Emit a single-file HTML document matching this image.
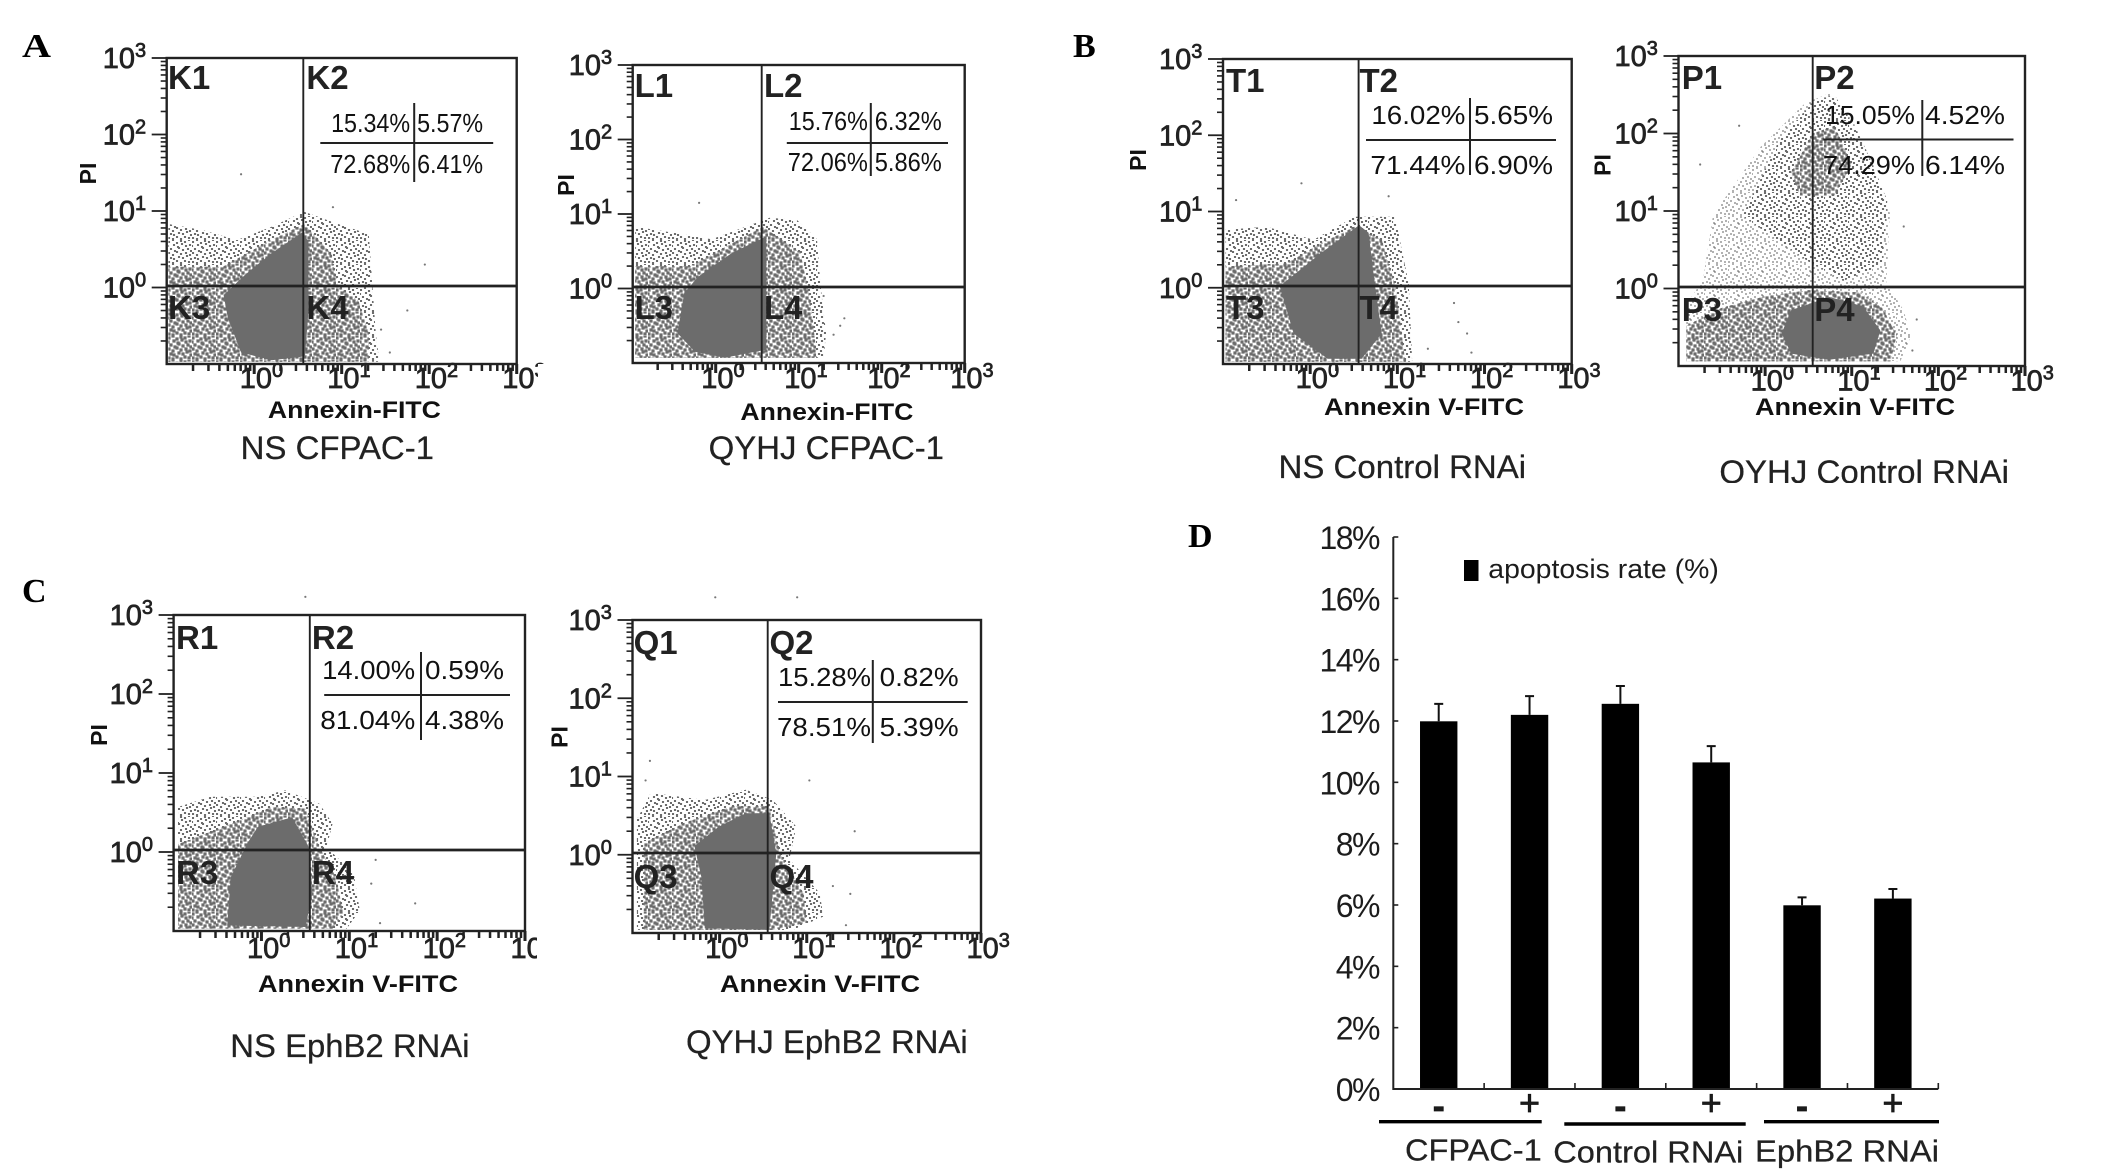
<!DOCTYPE html>
<html lang="en">
<head>
<meta charset="utf-8">
<title>Apoptosis flow cytometry and bar chart</title>
<style>
html,body{margin:0;padding:0;background:#fff;width:2126px;height:1176px;overflow:hidden}
svg{display:block}
text{font-family:"Liberation Sans",Arial,sans-serif;fill:#1c1c1c}
.letter{font-family:"Liberation Serif","Times New Roman",serif;font-weight:700;font-size:34px;fill:#000}
.quad{font-weight:700;font-size:33px;fill:#222}
.pct{font-size:26px;fill:#111}
.axl{font-weight:700;font-size:24px;fill:#111}
.pi{font-weight:700;font-size:23px;fill:#111}
.cap{font-size:32px;fill:#222;stroke:#222;stroke-width:.25}
.frame{fill:none;stroke:#222;stroke-width:2.4}
.v{stroke:#222;stroke-width:1.9}
.h{stroke:#222;stroke-width:2.8}
.tbl{stroke:#222;stroke-width:2}
.tick{font-size:29px;fill:#222;stroke:#222;stroke-width:.7}
.barlab{font-size:31px;fill:#222;stroke:#222;stroke-width:.25}
</style>
</head>
<body>
<svg id="figure" xmlns="http://www.w3.org/2000/svg" width="2126" height="1176" viewBox="0 0 2126 1176">
<defs>
<path id="speck" fill="none" stroke-linecap="square" d="M1 2h.01M5 0h.01M9 3h.01M13 1h.01M17 2h.01M21 0h.01M0 6h.01M6 5h.01M10 7h.01M14 4h.01M18 6h.01M22 5h.01M3 9h.01M7 11h.01M11 8h.01M15 10h.01M20 9h.01M23 11h.01M1 13h.01M5 15h.01M9 12h.01M13 14h.01M18 13h.01M22 15h.01M3 18h.01M6 19h.01M11 17h.01M15 18h.01M19 16h.01M23 19h.01M1 22h.01M5 23h.01M9 21h.01M13 23h.01M17 21h.01M21 22h.01"/>
<pattern id="faint-fill" patternUnits="userSpaceOnUse" width="24" height="24"><use href="#speck" stroke="#777" stroke-width="1.5"/></pattern>
<pattern id="sparse-fill" patternUnits="userSpaceOnUse" width="24" height="24"><use href="#speck" stroke="#6c6c6c" stroke-width="2.1"/></pattern>
<pattern id="mid-fill" patternUnits="userSpaceOnUse" width="24" height="24"><use href="#speck" stroke="#6c6c6c" stroke-width="3.2"/></pattern>
</defs>
<rect width="2126" height="1176" fill="#fff"/>

<text class="letter" x="22" y="57" textLength="29" lengthAdjust="spacingAndGlyphs">A</text>
<text class="letter" x="1073" y="57">B</text>
<text class="letter" x="22" y="602">C</text>
<text class="letter" x="1188" y="547">D</text>

<!-- K -->
<g>
<g id="marks-k"></g>
<rect class="frame" x="166.7" y="58" width="350" height="306"/>
<line class="v" x1="303.3" y1="58" x2="303.3" y2="364"/>
<line class="h" x1="166.7" y1="286" x2="516.7" y2="286"/>
<text class="quad" x="168" y="89">K1</text><text class="quad" x="306.4" y="89">K2</text><text class="quad" x="168" y="319">K3</text><text class="quad" x="306.4" y="319">K4</text>
<line class="tbl" x1="320.3" y1="143" x2="493.2" y2="143"/><line class="tbl" x1="414.2" y1="103" x2="414.2" y2="182"/>
<text class="pct" x="331.1" y="132" textLength="79" lengthAdjust="spacingAndGlyphs">15.34%</text><text class="pct" x="417.1" y="132" textLength="66" lengthAdjust="spacingAndGlyphs">5.57%</text><text class="pct" x="330.2" y="173" textLength="80" lengthAdjust="spacingAndGlyphs">72.68%</text><text class="pct" x="417.1" y="173" textLength="66" lengthAdjust="spacingAndGlyphs">6.41%</text>
<text class="axl" x="267.9" y="418" textLength="173" lengthAdjust="spacingAndGlyphs">Annexin-FITC</text>
<text class="pi" transform="translate(96,173.5) rotate(-90)" text-anchor="middle">PI</text>
<text class="cap" x="240.7" y="459" textLength="193.3" lengthAdjust="spacingAndGlyphs">NS CFPAC-1</text>
</g>

<!-- L -->
<g>
<g id="marks-l"></g>
<rect class="frame" x="632.7" y="65" width="332" height="298"/>
<line class="v" x1="761.7" y1="65" x2="761.7" y2="363"/>
<line class="h" x1="632.7" y1="287" x2="964.7" y2="287"/>
<text class="quad" x="634.6" y="97">L1</text><text class="quad" x="764" y="97">L2</text><text class="quad" x="634.6" y="319">L3</text><text class="quad" x="764" y="319">L4</text>
<line class="tbl" x1="786.8" y1="143" x2="948" y2="143"/><line class="tbl" x1="870.8" y1="103" x2="870.8" y2="176"/>
<text class="pct" x="788.8" y="130" textLength="79" lengthAdjust="spacingAndGlyphs">15.76%</text><text class="pct" x="874.8" y="130" textLength="67" lengthAdjust="spacingAndGlyphs">6.32%</text><text class="pct" x="787.8" y="171" textLength="80" lengthAdjust="spacingAndGlyphs">72.06%</text><text class="pct" x="874.8" y="171" textLength="67" lengthAdjust="spacingAndGlyphs">5.86%</text>
<text class="axl" x="740.4" y="420" textLength="173" lengthAdjust="spacingAndGlyphs">Annexin-FITC</text>
<text class="pi" transform="translate(574,185) rotate(-90)" text-anchor="middle">PI</text>
<text class="cap" x="708.7" y="459" textLength="235.3" lengthAdjust="spacingAndGlyphs">QYHJ CFPAC-1</text>
</g>

<!-- T -->
<g>
<g id="marks-t"></g>
<rect class="frame" x="1223" y="59" width="348.7" height="305"/>
<line class="v" x1="1358.6" y1="59" x2="1358.6" y2="364"/>
<line class="h" x1="1223" y1="286" x2="1571.7" y2="286"/>
<text class="quad" x="1226" y="92">T1</text><text class="quad" x="1359.5" y="92">T2</text><text class="quad" x="1226" y="319">T3</text><text class="quad" x="1359.5" y="319">T4</text>
<line class="tbl" x1="1366" y1="140" x2="1556" y2="140"/><line class="tbl" x1="1470" y1="98" x2="1470" y2="175"/>
<text class="pct" x="1371.4" y="124" textLength="94" lengthAdjust="spacingAndGlyphs">16.02%</text><text class="pct" x="1474" y="124" textLength="79" lengthAdjust="spacingAndGlyphs">5.65%</text><text class="pct" x="1370.4" y="174" textLength="95" lengthAdjust="spacingAndGlyphs">71.44%</text><text class="pct" x="1474" y="174" textLength="79" lengthAdjust="spacingAndGlyphs">6.90%</text>
<text class="axl" x="1324" y="415" textLength="200" lengthAdjust="spacingAndGlyphs">Annexin V-FITC</text>
<text class="pi" transform="translate(1146,160) rotate(-90)" text-anchor="middle">PI</text>
<text class="cap" x="1278.5" y="478" textLength="247.6" lengthAdjust="spacingAndGlyphs">NS Control RNAi</text>
</g>

<!-- P -->
<g>
<g id="marks-p"></g>
<rect class="frame" x="1678.5" y="56" width="346.5" height="310"/>
<line class="v" x1="1812.7" y1="56" x2="1812.7" y2="366"/>
<line class="h" x1="1678.5" y1="287" x2="2025" y2="287"/>
<text class="quad" x="1681.8" y="89">P1</text><text class="quad" x="1814.2" y="89">P2</text><text class="quad" x="1681.8" y="321">P3</text><text class="quad" x="1814.2" y="321">P4</text>
<line class="tbl" x1="1823.3" y1="139.5" x2="2013.5" y2="139.5"/><line class="tbl" x1="1922.3" y1="100" x2="1922.3" y2="176"/>
<text class="pct" x="1825" y="124" textLength="90" lengthAdjust="spacingAndGlyphs">15.05%</text><text class="pct" x="1925" y="124" textLength="80" lengthAdjust="spacingAndGlyphs">4.52%</text><text class="pct" x="1823" y="174" textLength="92" lengthAdjust="spacingAndGlyphs">74.29%</text><text class="pct" x="1925" y="174" textLength="80" lengthAdjust="spacingAndGlyphs">6.14%</text>
<text class="axl" x="1755" y="415" textLength="200" lengthAdjust="spacingAndGlyphs">Annexin V-FITC</text>
<text class="pi" transform="translate(1610.6,165) rotate(-90)" text-anchor="middle">PI</text>
<text class="cap" x="1719.4" y="483" textLength="289.6" lengthAdjust="spacingAndGlyphs">QYHJ Control RNAi</text>
<rect x="1700" y="483" width="330" height="14" fill="#fff"/>
</g>

<!-- R -->
<g>
<g id="marks-r"></g>
<rect class="frame" x="173.6" y="615" width="351.4" height="316"/>
<line class="v" x1="309.8" y1="615" x2="309.8" y2="931"/>
<line class="h" x1="173.6" y1="850" x2="525" y2="850"/>
<text class="quad" x="176" y="649">R1</text><text class="quad" x="311.9" y="649">R2</text><text class="quad" x="176" y="884">R3</text><text class="quad" x="311.9" y="884">R4</text>
<line class="tbl" x1="324.2" y1="695" x2="510" y2="695"/><line class="tbl" x1="421" y1="652" x2="421" y2="740"/>
<text class="pct" x="322.2" y="679" textLength="93" lengthAdjust="spacingAndGlyphs">14.00%</text><text class="pct" x="425" y="679" textLength="79" lengthAdjust="spacingAndGlyphs">0.59%</text><text class="pct" x="320.3" y="729" textLength="95" lengthAdjust="spacingAndGlyphs">81.04%</text><text class="pct" x="425" y="729" textLength="79" lengthAdjust="spacingAndGlyphs">4.38%</text>
<text class="axl" x="258" y="992" textLength="200" lengthAdjust="spacingAndGlyphs">Annexin V-FITC</text>
<text class="pi" transform="translate(106.8,735) rotate(-90)" text-anchor="middle">PI</text>
<text class="cap" x="230.3" y="1057" textLength="239.2" lengthAdjust="spacingAndGlyphs">NS EphB2 RNAi</text>
</g>

<!-- Q -->
<g>
<g id="marks-q"></g>
<rect class="frame" x="632.5" y="620" width="348.5" height="313"/>
<line class="v" x1="767.7" y1="620" x2="767.7" y2="933"/>
<line class="h" x1="632.5" y1="853" x2="981" y2="853"/>
<text class="quad" x="633.6" y="654">Q1</text><text class="quad" x="769.5" y="654">Q2</text><text class="quad" x="633.6" y="888">Q3</text><text class="quad" x="769.5" y="888">Q4</text>
<line class="tbl" x1="778" y1="702" x2="967.7" y2="702"/><line class="tbl" x1="872.8" y1="660" x2="872.8" y2="743"/>
<text class="pct" x="778" y="686" textLength="93" lengthAdjust="spacingAndGlyphs">15.28%</text><text class="pct" x="879.7" y="686" textLength="79" lengthAdjust="spacingAndGlyphs">0.82%</text><text class="pct" x="777" y="736" textLength="94" lengthAdjust="spacingAndGlyphs">78.51%</text><text class="pct" x="879.7" y="736" textLength="79" lengthAdjust="spacingAndGlyphs">5.39%</text>
<text class="axl" x="720" y="992" textLength="200" lengthAdjust="spacingAndGlyphs">Annexin V-FITC</text>
<text class="pi" transform="translate(567.4,737) rotate(-90)" text-anchor="middle">PI</text>
<text class="cap" x="686" y="1053" textLength="281.7" lengthAdjust="spacingAndGlyphs">QYHJ EphB2 RNAi</text>
</g>

<!-- Bar chart D -->
<g>
<g id="bars"></g>
<rect x="1464" y="560" width="14.5" height="21" fill="#000"/>
<text x="1488.3" y="578" font-size="27" textLength="230.5" lengthAdjust="spacingAndGlyphs" fill="#222">apoptosis rate (%)</text>
<line x1="1379" y1="1121.7" x2="1541.7" y2="1121.7" stroke="#000" stroke-width="3.4"/>
<line x1="1564.3" y1="1124" x2="1745.7" y2="1124" stroke="#000" stroke-width="3.4"/>
<line x1="1764" y1="1121.7" x2="1939" y2="1121.7" stroke="#000" stroke-width="3.4"/>
<text class="barlab" x="1405" y="1160.7" textLength="136.7" lengthAdjust="spacingAndGlyphs">CFPAC-1</text>
<text class="barlab" x="1553.3" y="1162.7" textLength="190" lengthAdjust="spacingAndGlyphs">Control RNAi</text>
<text class="barlab" x="1755" y="1161.7" textLength="184" lengthAdjust="spacingAndGlyphs">EphB2 RNAi</text>
</g>

<script>
// Flow cytometry: population outlines are [log10 x, log10 y].
const xTickLabels = ["0", "1", "2", "3"];
const yTickLabels = ["0", "1", "2", "3"];
const minorMultipliers = [2, 3, 4, 5, 6, 7, 8, 9];

const kSparse = [[[-0.98,-0.97],[-0.98,0.83],[-0.59,0.75],[-0.2,0.62],[0.19,0.79],[0.57,0.99],[0.96,0.83],[1.31,0.7],[1.35,0.05],[1.39,-0.6],[1.43,-0.97]]];
const kMid = [[[-0.98,-0.97],[-0.98,0.27],[-0.36,0.27],[0.19,0.62],[0.57,0.83],[0.88,0.44],[0.96,0.01],[1.19,-0.17],[1.31,-0.6],[1.31,-0.97]]];
const kCore = [[[-0.15,-0.85],[-0.3,-0.4],[-0.35,-0.1],[-0.1,0.17],[0.2,0.45],[0.55,0.72],[0.62,0.6],[0.62,-0.3],[0.58,-0.9],[0.2,-0.95]]];
const kDots = [[-0.15,1.48],[1.95,0.3],[1.75,-0.3],[1.45,-0.55],[1.55,-0.85],[0.9,1.05]];

const lSparse = [[[-0.97,-0.93],[-0.97,0.83],[-0.46,0.74],[-0.05,0.66],[0.36,0.83],[0.65,0.95],[0.98,0.92],[1.22,0.66],[1.26,0.07],[1.33,-0.6],[1.3,-0.93]]];
const lMid = [[[-0.97,-0.93],[-0.97,0.3],[-0.3,0.3],[0.2,0.61],[0.57,0.83],[1.02,0.48],[1.14,-0.15],[1.22,-0.93]]];
const lCore = [[[-0.25,-0.85],[-0.46,-0.6],[-0.38,-0.06],[-0.21,0.16],[0.2,0.48],[0.61,0.7],[0.61,-0.82],[0.11,-0.93]]];
const lDots = [[-0.2,1.15],[1.55,-0.4],[1.3,-0.1],[1.42,-0.62],[1.5,-0.5]];

const tSparse = [[[-0.97,-0.97],[-0.97,0.76],[-0.5,0.8],[0.04,0.63],[0.51,0.93],[0.98,0.93],[1.05,0.5],[1.13,0.06],[1.17,-0.97]]];
const tMid = [[[-0.97,-0.97],[-0.97,0.28],[-0.27,0.32],[0.12,0.58],[0.51,0.8],[0.82,0.63],[0.98,0.02],[1.05,-0.6],[1.09,-0.97]]];
const tCore = [[[0.2,-0.93],[-0.19,-0.6],[-0.35,0.02],[0.12,0.45],[0.56,0.82],[0.67,0.72],[0.74,0.06],[0.82,-0.6],[0.59,-0.93]]];
const tDots = [[-0.85,1.15],[-0.1,1.37],[1.65,-0.2],[1.7,-0.45],[1.8,-0.6],[1.35,-0.8],[1.85,-0.85],[0.9,1.2]];

const pFaint = [[[-0.91,-0.94],[-0.91,-0.2],[-0.72,0.1],[-0.6,0.95],[-0.05,1.83],[0.46,2.39],[0.74,2.52],[1.01,2.17],[1.29,1.49],[1.44,0.97],[1.4,0.07],[1.6,-0.28],[1.68,-0.62],[1.56,-0.94]]];
const pSparse = [[[-0.26,0.94],[0.17,1.92],[0.55,2.4],[0.8,2.5],[1.1,1.95],[1.41,1.14],[1.35,0.3],[0.9,0.1],[0.5,0.35]]];
const pMid = [[[0.3,1.5],[0.55,2],[0.8,2.1],[1,1.6],[0.8,1.2],[0.4,1.2]],[[-0.91,-0.94],[-0.91,-0.48],[-0.5,-0.25],[0,-0.1],[0.5,-0.02],[1.1,-0.05],[1.35,-0.25],[1.52,-0.6],[1.45,-0.94]]];
const pCore = [[[0.19,-0.58],[0.3,-0.28],[0.74,-0.11],[1.13,-0.23],[1.33,-0.54],[1.25,-0.84],[0.74,-0.92],[0.3,-0.84]]];
const pDots = [[-0.3,2.1],[-0.75,1.6],[1.6,0.8],[1.75,-0.4],[1.7,-0.8]];

const rSparse = [[[-0.95,-0.97],[-0.95,0.57],[-0.58,0.7],[-0.04,0.7],[0.27,0.78],[0.66,0.61],[0.81,0.36],[0.74,0.06],[1.05,-0.27],[1.12,-0.74],[0.97,-0.97]]];
const rMid = [[[-0.95,-0.97],[-0.95,0.1],[-0.43,0.32],[0.12,0.57],[0.5,0.55],[0.66,0.06],[0.85,-0.32],[0.93,-0.78],[0.81,-0.97]]];
const rCore = [[[-0.39,-0.93],[-0.35,-0.32],[-0.16,0.11],[-0.04,0.32],[0.35,0.44],[0.54,0.06],[0.58,-0.53],[0.5,-0.95]]];
const rDots = [[0.5,3.23],[1.75,-0.65],[1.3,-0.1],[1.35,-0.9],[1.25,-0.4]];

const qSparse = [[[-0.95,-0.96],[-0.95,0.45],[-0.79,0.79],[-0.17,0.7],[0.3,0.83],[0.61,0.7],[0.88,0.36],[0.8,-0.06],[1.15,-0.49],[1.19,-0.79],[0.84,-0.96]]];
const qMid = [[[-0.87,-0.96],[-0.87,0.15],[-0.4,0.41],[0.14,0.62],[0.57,0.62],[0.69,0.02],[0.96,-0.49],[1,-0.87],[0.61,-0.96]]];
const qCore = [[[-0.17,-0.94],[-0.21,-0.28],[-0.29,0.11],[-0.01,0.36],[0.3,0.53],[0.57,0.53],[0.65,0.02],[0.57,-0.96]]];
const qDots = [[-0.05,3.29],[0.89,3.29],[-0.8,1.2],[-0.85,0.95],[1.03,0.95],[1.55,0.3],[1.3,-0.4],[1.5,-0.5],[1.45,-0.9]];

const scatterPanels = [
  {id:"k",left:166.7,right:516.7,top:58,bottom:364,labelY:388,sparse:kSparse,mid:kMid,core:kCore,dots:kDots,cropX:538},
  {id:"l",left:632.7,right:964.7,top:65,bottom:363,labelY:388,sparse:lSparse,mid:lMid,core:lCore,dots:lDots},
  {id:"t",left:1223,right:1571.7,top:59,bottom:364,labelY:388,sparse:tSparse,mid:tMid,core:tCore,dots:tDots},
  {id:"p",left:1678.5,right:2025,top:56,bottom:366,labelY:390.5,faint:pFaint,sparse:pSparse,mid:pMid,core:pCore,dots:pDots},
  {id:"r",left:173.6,right:525,top:615,bottom:931,labelY:958,sparse:rSparse,mid:rMid,core:rCore,dots:rDots,cropX:537},
  {id:"q",left:632.5,right:981,top:620,bottom:933,labelY:958,sparse:qSparse,mid:qMid,core:qCore,dots:qDots}
];

// Bar chart values.
const barCategories = ["CFPAC-1 -", "CFPAC-1 +", "Control -", "Control +", "EphB2 -", "EphB2 +"];
const barSymbols = ["-", "+", "-", "+", "-", "+"];
const barValues = [11.99, 12.2, 12.56, 10.65, 5.99, 6.21];
const barErrors = [0.57, 0.61, 0.58, 0.53, 0.26, 0.31];
const barYTicks = [0, 2, 4, 6, 8, 10, 12, 14, 16, 18];

const NS = "http://www.w3.org/2000/svg";
function xScale(p, d) { return p.left + (d + 1) * (p.right - p.left) / 4; }
function yScale(p, d) { return p.bottom - (d + 1) * (p.bottom - p.top) / 4; }

function region(parent, p, pts, fill) {
  const el = document.createElementNS(NS, "polygon");
  el.setAttribute("points", pts.map(function (c) { return xScale(p, c[0]).toFixed(1) + "," + yScale(p, c[1]).toFixed(1); }).join(" "));
  el.setAttribute("fill", fill);
  
  
  parent.appendChild(el);
}
function tickLine(parent, x1, y1, x2, y2, w) {
  const el = document.createElementNS(NS, "line");
  el.setAttribute("x1", x1); el.setAttribute("y1", y1);
  el.setAttribute("x2", x2); el.setAttribute("y2", y2);
  el.setAttribute("stroke", "#222");
  el.setAttribute("stroke-width", w);
  
  
  parent.appendChild(el);
}
function powerLabel(parent, x, y, exp) {
  const el = document.createElementNS(NS, "text");
  el.setAttribute("x", x); el.setAttribute("y", y);
  el.setAttribute("class", "tick");
  
  
  el.appendChild(document.createTextNode("10"));
  const sup = document.createElementNS(NS, "tspan");
  sup.setAttribute("dy", "-11");
  sup.setAttribute("font-size", "20");
  sup.textContent = exp;
  el.appendChild(sup);
  parent.appendChild(el);
}

scatterPanels.forEach(function (p) {
  const g = document.getElementById("marks-" + p.id);
  (p.faint || []).forEach(function (pts) { region(g, p, pts, "url(#faint-fill)"); });
  p.sparse.forEach(function (pts) { region(g, p, pts, "url(#sparse-fill)"); });
  p.mid.forEach(function (pts) { region(g, p, pts, "url(#mid-fill)"); });
  p.core.forEach(function (pts) { region(g, p, pts, "#6c6c6c"); });
  p.dots.forEach(function (c) {
    const dot = document.createElementNS(NS, "circle");
    dot.setAttribute("cx", xScale(p, c[0]));
    dot.setAttribute("cy", yScale(p, c[1]));
    dot.setAttribute("r", 1.1);
    dot.setAttribute("fill", "#777");
    
    
    g.appendChild(dot);
  });
  for (let d = -1; d < 3; d++) {
    minorMultipliers.forEach(function (m) {
      const o = d + Math.log10(m);
      tickLine(g, xScale(p, o), p.bottom, xScale(p, o), p.bottom + 7, 2.5);
      tickLine(g, p.left - 6, yScale(p, o), p.left, yScale(p, o), 1.6);
    });
  }
  xTickLabels.forEach(function (t, i) {
    tickLine(g, xScale(p, i), p.bottom, xScale(p, i), p.bottom + 10, 3);
    powerLabel(g, xScale(p, i) - 14.5, p.labelY, t);
  });
  yTickLabels.forEach(function (t, i) {
    tickLine(g, p.left - 15, yScale(p, i), p.left, yScale(p, i), 1.8);
    powerLabel(g, p.left - 64, yScale(p, i) + 10, t);
  });
  if (p.cropX) {
    const mask = document.createElementNS(NS, "rect");
    mask.setAttribute("x", p.cropX);
    mask.setAttribute("y", p.bottom);
    mask.setAttribute("width", 24);
    mask.setAttribute("height", 36);
    mask.setAttribute("fill", "#fff");
    
    
    g.appendChild(mask);
  }
});

// Bar chart
const barArea = {left: 1393.3, right: 1938.3, zero: 1089, top: 537, max: 18};
function barX(i) { return barArea.left + (i + 0.5) * (barArea.right - barArea.left) / barCategories.length; }
function barY(v) { return barArea.zero - v * (barArea.zero - barArea.top) / barArea.max; }
const barsG = document.getElementById("bars");
barValues.forEach(function (v, i) {
  const cx = barX(i);
  const e = barValues[i] + barErrors[i];
  const stem = document.createElementNS(NS, "path");
  stem.setAttribute("d", "M" + cx + " " + barY(v) + "V" + barY(e) + "M" + (cx - 4.5) + " " + barY(e) + "H" + (cx + 4.5));
  stem.setAttribute("stroke", "#111");
  stem.setAttribute("stroke-width", "2");
  stem.setAttribute("fill", "none");
  
  
  barsG.appendChild(stem);
  const bar = document.createElementNS(NS, "rect");
  bar.setAttribute("x", cx - 18.7);
  bar.setAttribute("y", barY(v));
  bar.setAttribute("width", 37.4);
  bar.setAttribute("height", barArea.zero - barY(v));
  bar.setAttribute("fill", "#000");
  
  
  barsG.appendChild(bar);
  const sym = document.createElementNS(NS, "text");
  sym.setAttribute("x", cx);
  sym.setAttribute("y", barSymbols[i] === "+" ? 1115 : 1118);
  sym.setAttribute("text-anchor", "middle");
  sym.setAttribute("font-size", "36");
  sym.setAttribute("font-weight", barSymbols[i] === "+" ? "400" : "700");
  sym.setAttribute("fill", "#111");
  sym.setAttribute("stroke", "#111");
  sym.setAttribute("stroke-width", "0.7");
  sym.textContent = barSymbols[i];
  
  
  barsG.appendChild(sym);
});
const yAxis = document.createElementNS(NS, "path");
yAxis.setAttribute("d", "M" + barArea.left + " " + barArea.top + "V" + barArea.zero + "H" + barArea.right);
yAxis.setAttribute("stroke", "#222");
yAxis.setAttribute("stroke-width", "2");
yAxis.setAttribute("fill", "none");


barsG.appendChild(yAxis);
barYTicks.forEach(function (v) {
  tickLine(barsG, barArea.left, barY(v), barArea.left + 5, barY(v), 1.6);
  const lab = document.createElementNS(NS, "text");
  lab.setAttribute("x", 1379);
  lab.setAttribute("y", barY(v) + 12);
  lab.setAttribute("text-anchor", "end");
  lab.setAttribute("font-size", "32");
  lab.setAttribute("letter-spacing", "-1.5");
  lab.setAttribute("fill", "#222");
  lab.textContent = v + "%";
  
  
  barsG.appendChild(lab);
});
barCategories.forEach(function (c, i) {
  const bx = barArea.left + (i + 1) * (barArea.right - barArea.left) / barCategories.length;
  tickLine(barsG, bx, barArea.zero - 6, bx, barArea.zero, 1.6);
});
</script>
</svg>
</body>
</html>
